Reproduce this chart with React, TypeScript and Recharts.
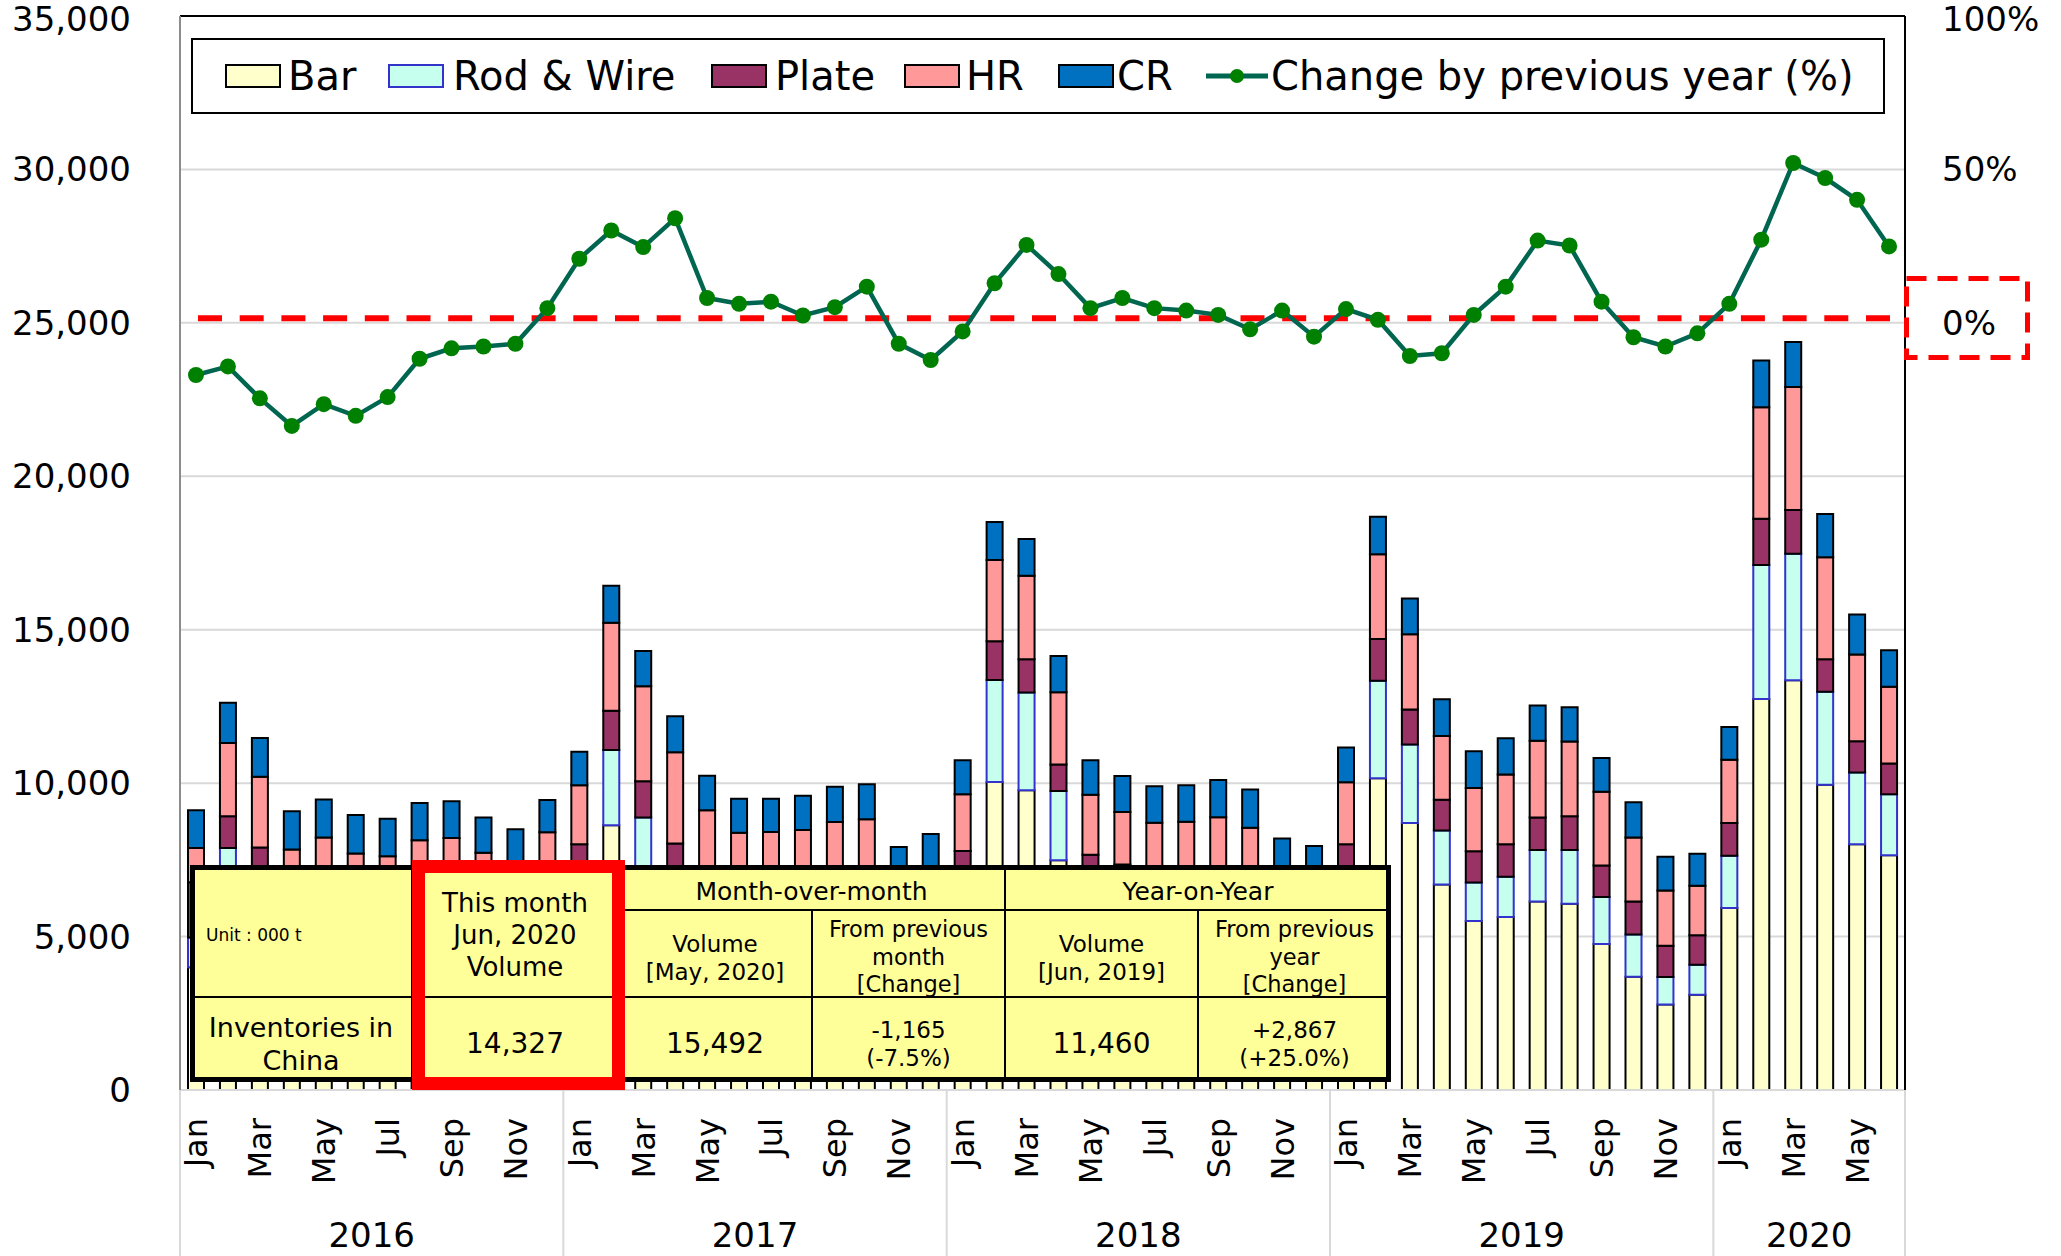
import React from 'react';
import { ComposedChart, Bar, Line, XAxis, YAxis, CartesianGrid, ReferenceLine } from 'recharts';

const FONT = '"DejaVu Sans", Verdana, sans-serif';

const MONTHS = ['Jan', 'Feb', 'Mar', 'Apr', 'May', 'Jun', 'Jul', 'Aug', 'Sep', 'Oct', 'Nov', 'Dec'];
const YEARS = [2016, 2017, 2018, 2019, 2020];
const MONTHS_IN_YEAR = [12, 12, 12, 12, 6];

// unit: 000 t
const barValues = [
  4000, 5900, 5400, 4300, 4500, 4300, 4200, 4400, 4400, 4300, 4100, 4500,
  5300, 8630, 7000, 5600, 5000, 4700, 4700, 4700, 4800, 4800, 4000, 4200,
  5490, 10040, 9770, 7490, 5400, 5100, 5000, 5000, 5100, 4900, 4300, 4200,
  5600, 10160, 8700, 6700, 5510, 5640, 6140, 6070, 4760, 3690, 2790, 3100,
  5935, 12745, 13355, 9950, 8005, 7650,
];
const rodValues = [
  970, 1990, 1300, 1000, 1000, 1000, 1000, 1000, 1000, 950, 900, 950,
  1300, 2450, 1880, 1300, 1200, 1100, 1100, 1100, 1100, 1100, 900, 950,
  1200, 3320, 3180, 2250, 1300, 1250, 1200, 1200, 1200, 1200, 1000, 1000,
  1300, 3180, 2560, 1760, 1250, 1310, 1680, 1750, 1530, 1380, 890, 980,
  1695, 4365, 4120, 3025, 2345, 1990,
];
const plateValues = [
  1800, 1030, 1200, 1400, 1300, 1300, 1300, 1300, 1300, 1250, 1200, 1250,
  1410, 1280, 1180, 1130, 1000, 1000, 1000, 1000, 1000, 1000, 900, 950,
  1100, 1260, 1090, 870, 970, 1000, 1000, 1000, 1000, 1000, 950, 900,
  1110, 1360, 1140, 1000, 1020, 1060, 1060, 1100, 1030, 1070, 1020, 960,
  1075, 1510, 1425, 1060, 1015, 1000,
];
const hrValues = [
  1120, 2390, 2310, 1140, 1430, 1110, 1120, 1440, 1510, 1230, 1100, 1700,
  1920, 2870, 3100, 2980, 1920, 1580, 1610, 1670, 1830, 1920, 1000, 1100,
  1850, 2650, 2720, 2350, 1950, 1710, 1510, 1540, 1590, 1450, 850, 800,
  2020, 2760, 2450, 2080, 2060, 2270, 2500, 2440, 2400, 2090, 1800, 1620,
  2060, 3630, 4010, 3325, 2825, 2500,
];
const crValues = [
  1230, 1310, 1260, 1240, 1240, 1250, 1220, 1210, 1200, 1150, 1200, 1050,
  1090, 1200, 1150, 1170, 1120, 1110, 1080, 1120, 1150, 1140, 1120, 1140,
  1110, 1240, 1200, 1180, 1130, 1170, 1190, 1190, 1210, 1240, 1100, 1050,
  1130, 1220, 1170, 1190, 1200, 1180, 1150, 1110, 1100, 1150, 1100, 1040,
  1065, 1520, 1470, 1415, 1302, 1187,
];
// change by previous year (%)
const yoyValues = [
  -17.0, -14.2, -24.6, -33.6, -26.5, -30.3, -24.2, -11.7, -8.3, -7.7, -6.8, 4.8,
  20.9, 30.1, 24.7, 34.1, 8.1, 6.2, 6.9, 2.4, 5.1, 11.8, -6.8, -12.1,
  -2.8, 12.9, 25.4, 15.9, 4.8, 8.1, 4.8, 4.0, 2.6, -2.1, 4.0, -4.5,
  4.5, 1.0, -10.8, -9.9, 2.6, 11.8, 26.8, 25.2, 6.9, -4.7, -7.7, -3.4,
  6.2, 27.1, 52.1, 47.2, 40.1, 24.9,
];

const leftTicks = [0, 5000, 10000, 15000, 20000, 25000, 30000, 35000];
const rightTicks = [0, 50, 100];

const categories: { key: string; month: number; year: number }[] = [];
YEARS.forEach((yr, yi) => {
  for (let m = 0; m < MONTHS_IN_YEAR[yi]; m++) categories.push({ key: `${MONTHS[m]} ${yr}`, month: m, year: yi });
});

const data = categories.map((c, i) => ({
  key: c.key,
  bar: barValues[i],
  rod: rodValues[i],
  plate: plateValues[i],
  hr: hrValues[i],
  cr: crValues[i],
  yoy: yoyValues[i],
}));

const W = 2061;
const H = 1256;
const PLOT_LEFT = 180;
const PLOT_RIGHT = 1905;
const BAND = (PLOT_RIGHT - PLOT_LEFT) / data.length;

function MonthTick(props: any) {
  const { x, y, payload } = props;
  const i = payload.index;
  const c = categories[i];
  if (!c) return null;
  const count = MONTHS_IN_YEAR[c.year];
  const mid = (count - 1) / 2;
  const els: React.ReactNode[] = [];
  if (c.month % 2 === 0) {
    const ty = y + 28;
    els.push(
      <text key="m" x={x} y={ty} transform={`rotate(-90 ${x} ${ty})`} textAnchor="end" dy="0.36em"
        fontSize={32} fontFamily={FONT} fill="#000">{MONTHS[c.month]}</text>
    );
  }
  if (c.month === Math.floor(mid)) {
    els.push(
      <text key="y" x={x + (mid - Math.floor(mid)) * BAND} y={y + 145} textAnchor="middle" dy="0.36em"
        fontSize={34} fontFamily={FONT} fill="#000">{YEARS[c.year]}</text>
    );
  }
  if (c.month === 0) {
    els.push(<line key="s" x1={x - BAND / 2} x2={x - BAND / 2} y1={y} y2={y + 170} stroke="#d9d9d9" strokeWidth={2} />);
  }
  if (i === data.length - 1) {
    els.push(<line key="e" x1={x + BAND / 2} x2={x + BAND / 2} y1={y} y2={y + 170} stroke="#d9d9d9" strokeWidth={2} />);
  }
  return <g>{els}</g>;
}

const legendItems = [
  { label: 'Bar', fill: '#FFFFCC', stroke: '#000', sx: 33.5, tx: 97 },
  { label: 'Rod & Wire', fill: '#C6FFEE', stroke: '#3333CC', sx: 197, tx: 262 },
  { label: 'Plate', fill: '#993366', stroke: '#000', sx: 520, tx: 584 },
  { label: 'HR', fill: '#FF9999', stroke: '#000', sx: 713, tx: 775 },
  { label: 'CR', fill: '#0070C0', stroke: '#000', sx: 866.5, tx: 926 },
];

const tableHead = {
  unit: 'Unit : 000 t',
  thisMonth: ['This month', 'Jun, 2020', 'Volume'],
  mom: 'Month-over-month',
  yoy: 'Year-on-Year',
  momVol: ['Volume', '[May, 2020]'],
  momChg: ['From previous', 'month', '[Change]'],
  yoyVol: ['Volume', '[Jun, 2019]'],
  yoyChg: ['From previous', 'year', '[Change]'],
};
const tableRow = {
  name: ['Inventories in', 'China'],
  thisMonth: '14,327',
  momVol: '15,492',
  momChg: ['-1,165', '(-7.5%)'],
  yoyVol: '11,460',
  yoyChg: ['+2,867', '(+25.0%)'],
};

function Cell(p: { l: number; t: number; w: number; h: number; lines: string[]; fs: number; lh: number; align?: 'left' | 'center'; pl?: number }) {
  return (
    <div style={{
      position: 'absolute', left: p.l, top: p.t, width: p.w, height: p.h,
      display: 'flex', flexDirection: 'column', justifyContent: 'center',
      alignItems: p.align === 'left' ? 'flex-start' : 'center',
      paddingLeft: p.pl || 0, boxSizing: 'border-box',
      fontFamily: FONT, fontSize: p.fs, lineHeight: `${p.lh}px`, color: '#000', textAlign: p.align || 'center',
      whiteSpace: 'nowrap',
    }}>
      {p.lines.map((s, k) => <div key={k}>{s}</div>)}
    </div>
  );
}

function InfoTable() {
  const lineStyle = (l: number, t: number, w: number, h: number): React.CSSProperties => ({
    position: 'absolute', left: l, top: t, width: w, height: h, background: '#000',
  });
  const X1 = 222, X2 = 428, X3 = 622, X4 = 815, X5 = 1008, RW = 1201;
  const Y1 = 45, Y2 = 132, BH = 217;
  return (
    <div style={{ position: 'absolute', left: 190, top: 865, width: RW, height: BH, background: '#FFFF99', boxSizing: 'border-box' }}>
      <div style={lineStyle(X1 - 1, 0, 2, BH)} />
      <div style={lineStyle(X2 - 1, 0, 2, BH)} />
      <div style={lineStyle(X4 - 1, 0, 2, BH)} />
      <div style={lineStyle(X3 - 1, Y1, 2, BH - Y1)} />
      <div style={lineStyle(X5 - 1, Y1, 2, BH - Y1)} />
      <div style={lineStyle(X2, Y1 - 1, RW - X2, 2)} />
      <div style={lineStyle(0, Y2 - 1, RW, 2)} />
      <Cell l={0} t={4} w={X1} h={Y2} lines={[tableHead.unit]} fs={17} lh={22} align="left" pl={16} />
      <Cell l={X1} t={4} w={X2 - X1} h={Y2} lines={tableHead.thisMonth} fs={26} lh={32} />
      <Cell l={X2} t={4} w={X4 - X2} h={Y1} lines={[tableHead.mom]} fs={25} lh={30} />
      <Cell l={X4} t={4} w={RW - X4} h={Y1} lines={[tableHead.yoy]} fs={25} lh={30} />
      <Cell l={X2} t={Y1 + 4} w={X3 - X2} h={Y2 - Y1} lines={tableHead.momVol} fs={23} lh={28} />
      <Cell l={X3} t={Y1 + 4} w={X4 - X3} h={Y2 - Y1} lines={tableHead.momChg} fs={22.5} lh={27.5} />
      <Cell l={X4} t={Y1 + 4} w={X5 - X4} h={Y2 - Y1} lines={tableHead.yoyVol} fs={23} lh={28} />
      <Cell l={X5} t={Y1 + 4} w={RW - X5} h={Y2 - Y1} lines={tableHead.yoyChg} fs={22.5} lh={27.5} />
      <Cell l={0} t={Y2 + 4} w={X1} h={BH - Y2} lines={tableRow.name} fs={27} lh={33} />
      <Cell l={X1} t={Y2 + 4} w={X2 - X1} h={BH - Y2} lines={[tableRow.thisMonth]} fs={28} lh={34} />
      <Cell l={X2} t={Y2 + 4} w={X3 - X2} h={BH - Y2} lines={[tableRow.momVol]} fs={28} lh={34} />
      <Cell l={X3} t={Y2 + 4} w={X4 - X3} h={BH - Y2} lines={tableRow.momChg} fs={23} lh={28} />
      <Cell l={X4} t={Y2 + 4} w={X5 - X4} h={BH - Y2} lines={[tableRow.yoyVol]} fs={28} lh={34} />
      <Cell l={X5} t={Y2 + 4} w={RW - X5} h={BH - Y2} lines={tableRow.yoyChg} fs={23} lh={28} />
      <div style={{ position: 'absolute', left: 0, top: 0, width: RW, height: BH, border: '5px solid #000', boxSizing: 'border-box' }} />
    </div>
  );
}

function LegendBox() {
  return (
    <div style={{ position: 'absolute', left: 191, top: 38, width: 1694, height: 76, border: '2px solid #000', background: '#fff', boxSizing: 'border-box' }}>
      {legendItems.map((it) => (
        <React.Fragment key={it.label}>
          <div style={{ position: 'absolute', left: it.sx - 2, top: 24, width: 56, height: 24, background: it.fill, border: `2px solid ${it.stroke}`, boxSizing: 'border-box' }} />
          <div style={{ position: 'absolute', left: it.tx - 2, top: 16, fontFamily: FONT, fontSize: 40, lineHeight: '40px', whiteSpace: 'nowrap', color: '#000' }}>{it.label}</div>
        </React.Fragment>
      ))}
      <svg style={{ position: 'absolute', left: 1013, top: 22 }} width={64} height={30}>
        <line x1={0} x2={62} y1={14} y2={14} stroke="#006650" strokeWidth={5} />
        <circle cx={31} cy={14} r={7} fill="#008000" />
      </svg>
      <div style={{ position: 'absolute', left: 1078, top: 16, fontFamily: FONT, fontSize: 40, lineHeight: '40px', whiteSpace: 'nowrap', color: '#000' }}>Change by previous year (%)</div>
    </div>
  );
}

export default function App() {
  const fmt = (v: number) => v.toLocaleString('en-US');
  return (
    <div style={{ position: 'absolute', left: 0, top: 0, width: W, height: H, background: '#fff', overflow: 'hidden' }}>
      <ComposedChart width={W} height={H} data={data} margin={{ top: 16, right: 0, bottom: 0, left: 0 }} barCategoryGap={0}>
        <CartesianGrid vertical={false} stroke="#d9d9d9" strokeWidth={2} />
        <XAxis dataKey="key" interval={0} height={166} tickSize={0} tickMargin={0} tickLine={false}
          axisLine={{ stroke: '#d9d9d9', strokeWidth: 2 }} tick={<MonthTick />} />
        <YAxis domain={[0, 35000]} ticks={leftTicks} width={180} tickSize={0} tickMargin={49} tickLine={false}
          axisLine={{ stroke: '#8c8c8c', strokeWidth: 2 }} tickFormatter={fmt}
          tick={{ fontSize: 34, fontFamily: FONT, fill: '#000' }} allowDataOverflow />
        <YAxis yAxisId="right" orientation="right" domain={[-250, 100]} ticks={rightTicks} width={156} tickSize={0}
          tickMargin={37} tickLine={false} axisLine={{ stroke: '#000', strokeWidth: 2 }}
          tickFormatter={(v: number) => `${v}%`} tick={{ fontSize: 34, fontFamily: FONT, fill: '#000', textAnchor: 'start' }} allowDataOverflow />
        <Bar dataKey="bar" stackId="s" fill="#FFFFCC" stroke="#000" strokeWidth={2} barSize={16} isAnimationActive={false} />
        <Bar dataKey="rod" stackId="s" fill="#C6FFEE" stroke="#3333CC" strokeWidth={2} barSize={16} isAnimationActive={false} />
        <Bar dataKey="plate" stackId="s" fill="#993366" stroke="#000" strokeWidth={2} barSize={16} isAnimationActive={false} />
        <Bar dataKey="hr" stackId="s" fill="#FF9999" stroke="#000" strokeWidth={2} barSize={16} isAnimationActive={false} />
        <Bar dataKey="cr" stackId="s" fill="#0070C0" stroke="#000" strokeWidth={2} barSize={16} isAnimationActive={false} />
        <ReferenceLine y={35000} stroke="#000" strokeWidth={2} />
        <ReferenceLine yAxisId="right" y={1.5} stroke="#FF0000" strokeWidth={6} strokeDasharray="24 17.7" strokeDashoffset={26.7} />
        <Line yAxisId="right" dataKey="yoy" stroke="#006650" strokeWidth={4.5}
          dot={{ r: 8, fill: '#008000', stroke: 'none' }} activeDot={false} isAnimationActive={false} />
      </ComposedChart>
      <LegendBox />
      <InfoTable />
      <div style={{ position: 'absolute', left: 412, top: 860, width: 213, height: 230, border: '13px solid #FF0000', boxSizing: 'border-box' }} />
      <svg style={{ position: 'absolute', left: 0, top: 0, pointerEvents: 'none' }} width={W} height={H}>
        <rect x={1906.5} y={278.5} width={121} height={79} fill="none" stroke="#FF0000" strokeWidth={5} strokeDasharray="20 11" />
      </svg>
    </div>
  );
}
